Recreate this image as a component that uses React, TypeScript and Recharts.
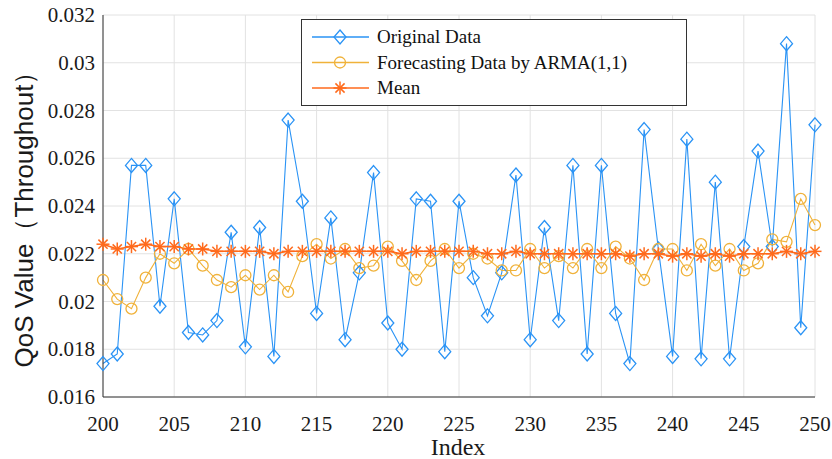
import React from "react"
import { LineChart, Line, XAxis, YAxis, CartesianGrid } from "recharts"

const indices = [
  200, 201, 202, 203, 204, 205, 206, 207, 208, 209, 210, 211, 212, 213, 214, 215, 216,
  217, 218, 219, 220, 221, 222, 223, 224, 225, 226, 227, 228, 229, 230, 231, 232, 233,
  234, 235, 236, 237, 238, 239, 240, 241, 242, 243, 244, 245, 246, 247, 248, 249, 250,
]

const original = [
  0.0174, 0.0178, 0.0257, 0.0257, 0.0198, 0.0243, 0.0187, 0.0186, 0.0192, 0.0229, 0.0181,
  0.0231, 0.0177, 0.0276, 0.0242, 0.0195, 0.0235, 0.0184, 0.0212, 0.0254, 0.0191, 0.018,
  0.0243, 0.0242, 0.0179, 0.0242, 0.021, 0.0194, 0.0212, 0.0253, 0.0184, 0.0231, 0.0192,
  0.0257, 0.0178, 0.0257, 0.0195, 0.0174, 0.0272, 0.0222, 0.0177, 0.0268, 0.0176, 0.025,
  0.0176, 0.0223, 0.0263, 0.0223, 0.0308, 0.0189, 0.0274,
]

const forecast = [
  0.0209, 0.0201, 0.0197, 0.021, 0.022, 0.0216, 0.0222, 0.0215, 0.0209, 0.0206, 0.0211,
  0.0205, 0.0211, 0.0204, 0.0219, 0.0224, 0.0218, 0.0222, 0.0214, 0.0215, 0.0223, 0.0217,
  0.0209, 0.0217, 0.0222, 0.0214, 0.022, 0.0218, 0.0213, 0.0213, 0.0222, 0.0214, 0.0219,
  0.0214, 0.0222, 0.0214, 0.0223, 0.0218, 0.0209, 0.0222, 0.0222, 0.0213, 0.0224, 0.0215,
  0.0222, 0.0213, 0.0216, 0.0226, 0.0225, 0.0243, 0.0232,
]

const mean = [
  0.0224, 0.0222, 0.0223, 0.0224, 0.0223, 0.0223, 0.0222, 0.0222, 0.0221, 0.0221, 0.0221,
  0.0221, 0.022, 0.0221, 0.0221, 0.0221, 0.0221, 0.0221, 0.0221, 0.0221, 0.0221, 0.022,
  0.0221, 0.0221, 0.0221, 0.0221, 0.0221, 0.022, 0.022, 0.0221, 0.022, 0.022, 0.022,
  0.022, 0.022, 0.022, 0.022, 0.0219, 0.022, 0.022, 0.0219, 0.022, 0.0219, 0.022,
  0.0219, 0.022, 0.022, 0.022, 0.0221, 0.022, 0.0221,
]

const xTicks = [200, 205, 210, 215, 220, 225, 230, 235, 240, 245, 250]
const yTicks = [0.016, 0.018, 0.02, 0.022, 0.024, 0.026, 0.028, 0.03, 0.032]

const data = indices.map((idx, i) => ({
  idx,
  original: original[i],
  forecast: forecast[i],
  mean: mean[i],
}))

const BLUE = "#2a93f5"
const YELLOW = "#f0b23a"
const ORANGE = "#ff6a1c"
const SERIF = "'Liberation Serif', 'Times New Roman', serif"
const TEXT = "#1a1a1a"

const Diamond = (color: string) => (props: any) => {
  const { cx, cy, key } = props
  if (cx == null || cy == null) return <g key={key} />
  return (
    <path
      key={key}
      d={`M${cx},${cy - 7} L${cx + 6},${cy} L${cx},${cy + 7} L${cx - 6},${cy} Z`}
      fill="none"
      stroke={color}
      strokeWidth={1.3}
    />
  )
}

const Circle = (color: string) => (props: any) => {
  const { cx, cy, key } = props
  if (cx == null || cy == null) return <g key={key} />
  return <circle key={key} cx={cx} cy={cy} r={5.5} fill="none" stroke={color} strokeWidth={1.3} />
}

const Star = (color: string) => (props: any) => {
  const { cx, cy, key } = props
  if (cx == null || cy == null) return <g key={key} />
  const r = 6.5
  const d = r * 0.707
  return (
    <g key={key} stroke={color} strokeWidth={1.5}>
      <line x1={cx - r} y1={cy} x2={cx + r} y2={cy} />
      <line x1={cx} y1={cy - r} x2={cx} y2={cy + r} />
      <line x1={cx - d} y1={cy - d} x2={cx + d} y2={cy + d} />
      <line x1={cx - d} y1={cy + d} x2={cx + d} y2={cy - d} />
    </g>
  )
}

const XTick = (props: any) => {
  const { x, y, payload } = props
  return (
    <text x={x} y={y + 26} textAnchor="middle" fontFamily={SERIF} fontSize={21} fill={TEXT}>
      {payload.value}
    </text>
  )
}

const YTick = (props: any) => {
  const { x, y, payload } = props
  return (
    <text x={x} y={y + 7} textAnchor="end" fontFamily={SERIF} fontSize={21} fill={TEXT}>
      {String(Number(Number(payload.value).toFixed(3)))}
    </text>
  )
}

const legendItems = [
  { label: "Original Data", color: BLUE, marker: Diamond(BLUE) },
  { label: "Forecasting Data by ARMA(1,1)", color: YELLOW, marker: Circle(YELLOW) },
  { label: "Mean", color: ORANGE, marker: Star(ORANGE) },
]

const LegendBox = () => (
  <svg width={386} height={87} style={{ display: "block" }}>
    <rect x={0.5} y={0.5} width={385} height={86} fill="#fff" stroke="#333" strokeWidth={1} />
    {legendItems.map((it, i) => {
      const y = 18 + i * 25.5
      return (
        <g key={it.label}>
          <line x1={11} y1={y} x2={68} y2={y} stroke={it.color} strokeWidth={1.3} />
          {it.marker({ cx: 39, cy: y, key: "m" })}
          <text x={76} y={y + 6} fontFamily={SERIF} fontSize={19} fill="#111">
            {it.label}
          </text>
        </g>
      )
    })}
  </svg>
)

const YLabel = () => (
  <text
    x={33}
    y={213}
    transform="rotate(-90 33 213)"
    textAnchor="middle"
    fontFamily="'Liberation Sans', Arial, sans-serif"
    fontSize={26}
    fill={TEXT}
  >
    QoS Value（Throughout）
  </text>
)

const XLabel = () => (
  <text x={458} y={455} textAnchor="middle" fontFamily={SERIF} fontSize={24} fill={TEXT}>
    Index
  </text>
)

export default function App() {
  return (
    <div style={{ position: "absolute", left: 0, top: 0, width: 832, height: 459, background: "#fff" }}>
      <LineChart width={832} height={459} data={data} margin={{ top: 15, right: 17, left: 45, bottom: 32 }}>
        <CartesianGrid stroke="#e2e2e2" strokeWidth={1} />
        <XAxis
          dataKey="idx"
          type="number"
          domain={[200, 250]}
          ticks={xTicks}
          height={30}
          tickLine={false}
          axisLine={{ stroke: "#333" }}
          tick={<XTick />}
          label={{ content: () => <XLabel /> }}
        />
        <XAxis
          xAxisId="top"
          dataKey="idx"
          type="number"
          orientation="top"
          domain={[200, 250]}
          ticks={xTicks}
          height={0}
          mirror
          tickSize={5}
          tickLine={{ stroke: "#333" }}
          axisLine={{ stroke: "#333" }}
          tickFormatter={() => ""}
        />
        <YAxis
          type="number"
          domain={[0.016, 0.032]}
          ticks={yTicks}
          width={58}
          tickLine={false}
          axisLine={{ stroke: "#333" }}
          tick={<YTick />}
          label={{ content: () => <YLabel /> }}
        />
        <YAxis
          yAxisId="right"
          orientation="right"
          type="number"
          domain={[0.016, 0.032]}
          ticks={yTicks}
          width={0}
          mirror
          tickSize={5}
          tickLine={{ stroke: "#333" }}
          axisLine={{ stroke: "#333" }}
          tickFormatter={() => ""}
        />
        <Line
          dataKey="original"
          stroke={BLUE}
          strokeWidth={1.1}
          dot={Diamond(BLUE)}
          activeDot={false}
          isAnimationActive={false}
        />
        <Line
          dataKey="forecast"
          stroke={YELLOW}
          strokeWidth={1.1}
          dot={Circle(YELLOW)}
          activeDot={false}
          isAnimationActive={false}
        />
        <Line
          dataKey="mean"
          stroke={ORANGE}
          strokeWidth={1.5}
          dot={Star(ORANGE)}
          activeDot={false}
          isAnimationActive={false}
        />
      </LineChart>
      <div style={{ position: "absolute", left: 301, top: 19 }}>
        <LegendBox />
      </div>
    </div>
  )
}
